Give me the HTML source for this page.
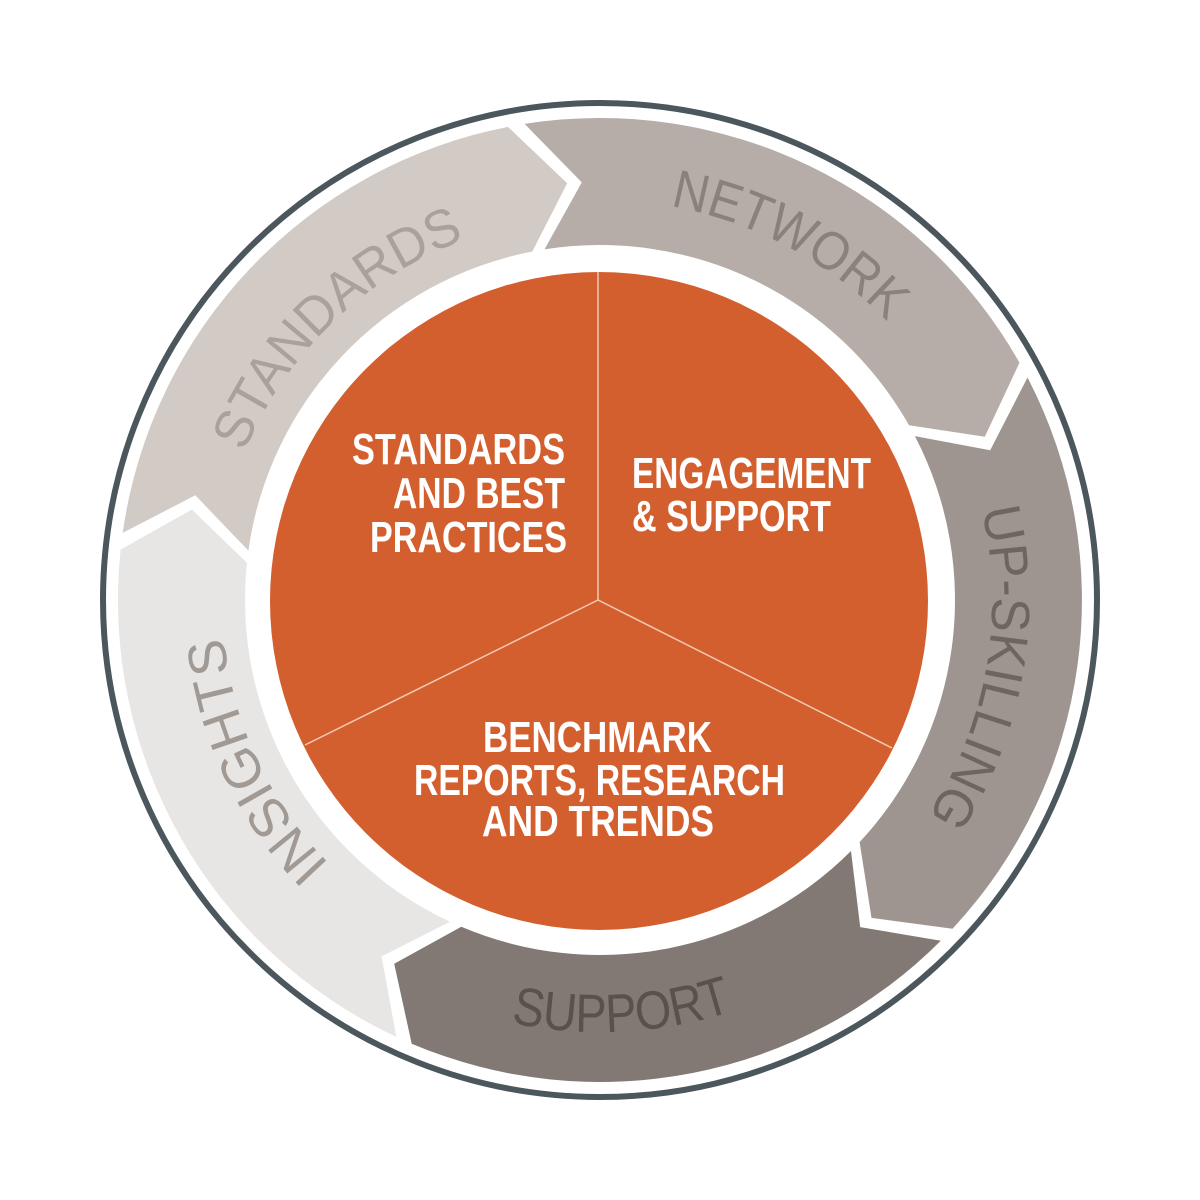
<!DOCTYPE html>
<html><head><meta charset="utf-8"><style>
html,body{margin:0;padding:0;background:#fff;}
svg{display:block;}
.lab{font-family:"Liberation Sans Narrow","Liberation Sans",sans-serif;font-size:54px;}
.in{font-family:"Liberation Sans Narrow","Liberation Sans",sans-serif;font-weight:bold;font-size:44px;fill:#fff;}
</style></head><body>
<svg width="1200" height="1200" viewBox="0 0 1200 1200" xmlns="http://www.w3.org/2000/svg">
<rect width="1200" height="1200" fill="#fff"/>
<circle cx="600" cy="600" r="497" fill="none" stroke="#4b575c" stroke-width="6"/>
<!-- STANDARDS -->
<path d="M122.7 532.9 A482 482 0 0 1 508.0 126.9 L567.2 183.3 L532.3 251.5 A355 355 0 0 0 248.4 550.6 L195.3 495.3 Z" fill="#d2cac5"/>
<!-- NETWORK -->
<path d="M524.6 123.9 A482 482 0 0 1 1019.5 362.7 L984.8 436.7 L909.0 425.2 A355 355 0 0 0 544.5 249.4 L581.8 182.4 Z" fill="#b6ada8"/>
<!-- UP-SKILLING -->
<path d="M1027.5 377.5 A482 482 0 0 1 952.5 928.7 L871.5 917.9 L859.6 842.1 A355 355 0 0 0 914.9 436.1 L990.2 450.2 Z" fill="#9e9590"/>
<!-- SUPPORT -->
<path d="M940.8 940.8 A482 482 0 0 1 411.7 1043.7 L394.2 963.8 L461.3 926.8 A355 355 0 0 0 851.0 851.0 L860.2 927.1 Z" fill="#827974"/>
<!-- INSIGHTS -->
<path d="M396.3 1036.8 A482 482 0 0 1 120.6 549.6 L191.9 509.5 L247.0 562.9 A355 355 0 0 0 450.0 921.7 L381.6 956.4 Z" fill="#e8e6e5"/>

<defs>
<path id="pStd" d="M280.8 815.3 A385 385 0 0 1 826.3 288.5"/>
<path id="pNet" d="M284.8 353.7 A400 400 0 0 1 980.4 723.6"/>
<path id="pUp" d="M734.1 231.6 A392 392 0 0 1 600 992"/>
<path id="pIns" d="M697.8 965.1 A378 378 0 0 1 383.2 290.3"/>
<path id="pSup" d="M179.1 697.2 A432 432 0 0 0 1028.8 652.7"/>
</defs>
<text class="lab" fill="#aaa19c"><textPath href="#pStd" startOffset="50%" text-anchor="middle" textLength="315" lengthAdjust="spacingAndGlyphs">STANDARDS</textPath></text>
<text class="lab" fill="#8a817c"><textPath href="#pNet" startOffset="50%" text-anchor="middle" textLength="250" lengthAdjust="spacingAndGlyphs">NETWORK</textPath></text>
<text class="lab" fill="#6d6560"><textPath href="#pUp" startOffset="50%" text-anchor="middle" textLength="320" lengthAdjust="spacingAndGlyphs">UP-SKILLING</textPath></text>
<text class="lab" fill="#a19994"><textPath href="#pIns" startOffset="50%" text-anchor="middle" textLength="255" lengthAdjust="spacingAndGlyphs">INSIGHTS</textPath></text>
<text class="lab" fill="#59514c"><textPath href="#pSup" startOffset="50%" text-anchor="middle" textLength="225" lengthAdjust="spacingAndGlyphs">SUPPORT</textPath></text>

<circle cx="599" cy="601" r="329" fill="#d35f2e"/>
<g stroke="#f3c9b4" stroke-width="1.5">
<line x1="598" y1="600" x2="598" y2="272"/>
<line x1="598" y1="600" x2="305" y2="745"/>
<line x1="598" y1="600" x2="892" y2="748"/>
</g>
<text class="in" x="352" y="464" textLength="213" lengthAdjust="spacingAndGlyphs">STANDARDS</text>
<text class="in" x="393" y="508" textLength="172" lengthAdjust="spacingAndGlyphs">AND BEST</text>
<text class="in" x="370" y="552" textLength="197" lengthAdjust="spacingAndGlyphs">PRACTICES</text>
<text class="in" x="632" y="488" textLength="239" lengthAdjust="spacingAndGlyphs">ENGAGEMENT</text>
<text class="in" x="632" y="531" textLength="199" lengthAdjust="spacingAndGlyphs">&amp; SUPPORT</text>
<text class="in" x="483" y="752" textLength="229" lengthAdjust="spacingAndGlyphs">BENCHMARK</text>
<text class="in" x="414" y="795" textLength="371" lengthAdjust="spacingAndGlyphs">REPORTS, RESEARCH</text>
<text class="in" x="482" y="836" textLength="232" lengthAdjust="spacingAndGlyphs">AND TRENDS</text>
</svg>
</body></html>
